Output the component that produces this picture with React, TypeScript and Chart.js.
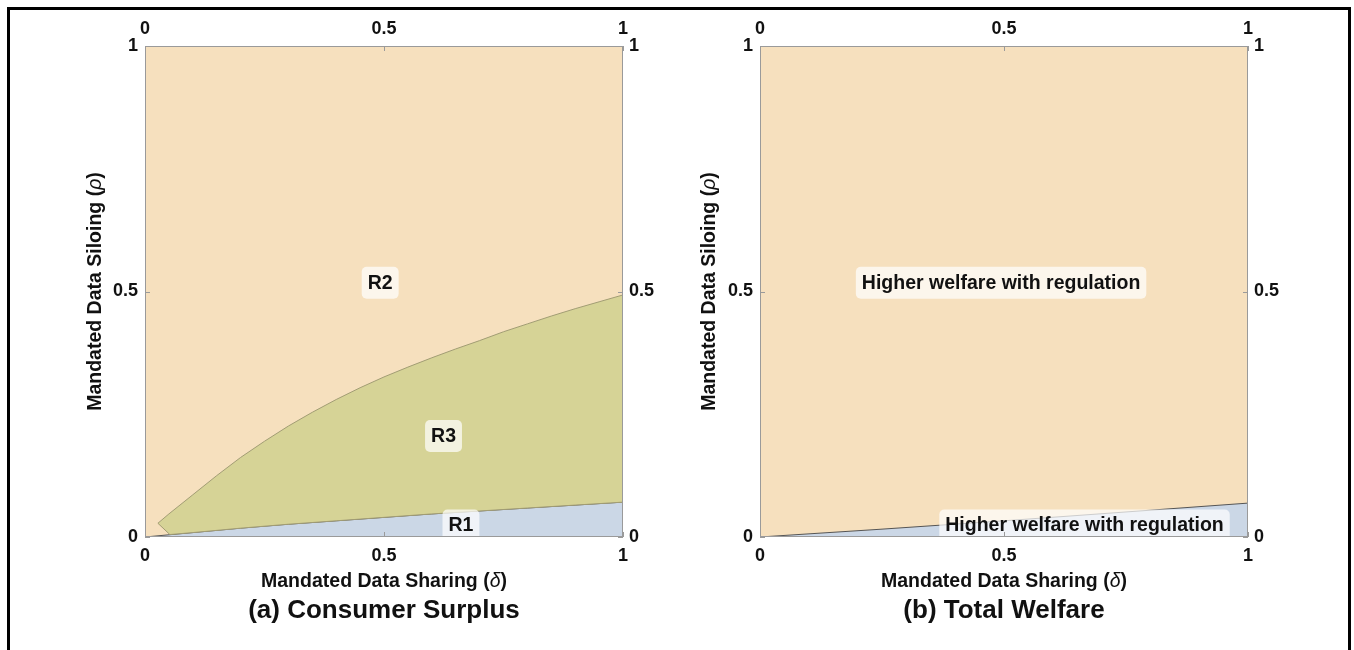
import React, { useEffect, useRef } from "react";
import { Chart, registerables } from "chart.js";
Chart.register(...registerables);

// ---------- data ----------
const tickValues = [0, 0.5, 1];
const tickLabels = ["0", "0.5", "1"];

// Panel (a): boundary between R1 (below) and R3 (above)
const r1Delta = [0, 0.1, 0.2, 0.3, 0.4, 0.5, 0.6, 0.7, 0.8, 0.9, 1.0];
const r1Rho = [0, 0.009, 0.018, 0.026, 0.033, 0.04, 0.047, 0.053, 0.059, 0.065, 0.071];

// Panel (a): upper boundary of R3 (R2 above)
const r3UpperDelta = [0.027, 0.05, 0.1, 0.15, 0.2, 0.25, 0.3, 0.35, 0.4, 0.45, 0.5, 0.55, 0.6, 0.65, 0.7, 0.75, 0.8, 0.85, 0.9, 0.95, 1.0];
const r3UpperRho = [0.028, 0.047, 0.086, 0.125, 0.162, 0.195, 0.226, 0.254, 0.28, 0.304, 0.326, 0.346, 0.365, 0.383, 0.4, 0.418, 0.434, 0.45, 0.465, 0.479, 0.493];

// Panel (a): lower boundary of R3 (walked back from right edge to the tip)
const r3LowerDelta = [1.0, 0.9, 0.8, 0.7, 0.6, 0.5, 0.4, 0.3, 0.2, 0.1, 0.052];
const r3LowerRho = [0.071, 0.065, 0.059, 0.053, 0.047, 0.04, 0.033, 0.026, 0.018, 0.009, 0.005];

// Panel (b): boundary of the lower region
const welfareDelta = [0, 0.25, 0.5, 0.75, 1.0];
const welfareRho = [0, 0.016, 0.033, 0.051, 0.069];

// Region labels
const labelTextsA = ["R2", "R3", "R1"];
const labelDeltaA = [0.492, 0.6245, 0.661];
const labelRhoA = [0.52, 0.2077, 0.0255];

const labelTextsB = ["Higher welfare with regulation", "Higher welfare with regulation"];
const labelDeltaB = [0.494, 0.665];
const labelRhoB = [0.52, 0.0255];

const captionA = "(a) Consumer Surplus";
const captionB = "(b) Total Welfare";
const xTitleParts = ["Mandated Data Sharing (", "δ", ")"];
const yTitleParts = ["Mandated Data Siloing (", "ρ", ")"];

// ---------- styles ----------
const FAMILY = "'Liberation Sans', Arial, sans-serif";
const BEIGE = "#F6E0BE";
const OLIVE = "#D6D396";
const BLUE = "#CBD7E6";
const R3_EDGE = "#A29D74";
const R1_EDGE = "#555555";
const FRAME = "#9A9A9A";
const TEXT = "#111111";

const zip = (xs: number[], ys: number[]) => xs.map((x, i) => ({ x, y: ys[i] }));

function drawMixed(ctx: CanvasRenderingContext2D, parts: string[], size: number, cx: number, cy: number, rotate: boolean) {
  const fonts = parts.map((_, i) => (i === 1 ? `italic ${size}px ${FAMILY}` : `bold ${size}px ${FAMILY}`));
  ctx.save();
  ctx.translate(cx, cy);
  if (rotate) ctx.rotate(-Math.PI / 2);
  ctx.textAlign = "left";
  ctx.textBaseline = "alphabetic";
  ctx.fillStyle = TEXT;
  const widths = parts.map((p, i) => {
    ctx.font = fonts[i];
    return ctx.measureText(p).width;
  });
  const total = widths.reduce((a, b) => a + b, 0);
  let x = -total / 2;
  parts.forEach((p, i) => {
    ctx.font = fonts[i];
    ctx.fillText(p, x, 0);
    x += widths[i];
  });
  ctx.restore();
}

const regionPlugin = {
  id: "regionPlot",
  beforeDatasetsDraw(chart: any) {
    const { ctx, chartArea: a } = chart;
    ctx.save();
    ctx.fillStyle = BEIGE;
    ctx.fillRect(a.left, a.top, a.right - a.left, a.bottom - a.top);
    ctx.restore();
  },
  afterDatasetsDraw(chart: any, _args: any, opts: any) {
    const { ctx, chartArea: a } = chart;
    const xs = chart.scales.x;
    const ys = chart.scales.y;
    // labels
    ctx.save();
    ctx.beginPath();
    ctx.rect(a.left, a.top, a.right - a.left, a.bottom - a.top);
    ctx.clip();
    ctx.font = `bold 19.5px ${FAMILY}`;
    (opts.texts as string[]).forEach((t, i) => {
      const px = xs.getPixelForValue(opts.deltas[i]);
      const py = ys.getPixelForValue(opts.rhos[i]);
      const w = ctx.measureText(t).width;
      const bw = w + 12;
      const bh = 32;
      ctx.fillStyle = "rgba(255,255,255,0.7)";
      ctx.beginPath();
      (ctx as any).roundRect(px - bw / 2, py - bh / 2 + 1, bw, bh, 5);
      ctx.fill();
      ctx.fillStyle = TEXT;
      ctx.textAlign = "center";
      ctx.textBaseline = "alphabetic";
      ctx.fillText(t, px, py + 7);
    });
    ctx.restore();
    // frame
    ctx.save();
    ctx.strokeStyle = FRAME;
    ctx.lineWidth = 1;
    ctx.strokeRect(a.left + 0.5, a.top + 0.5, a.right - a.left - 1, a.bottom - a.top - 1);
    // inward ticks
    ctx.beginPath();
    tickValues.forEach((v) => {
      const px = Math.round(xs.getPixelForValue(v)) + 0.5;
      const py = Math.round(ys.getPixelForValue(v)) + 0.5;
      ctx.moveTo(px, a.bottom);
      ctx.lineTo(px, a.bottom - 5);
      ctx.moveTo(px, a.top);
      ctx.lineTo(px, a.top + 5);
      ctx.moveTo(a.left, py);
      ctx.lineTo(a.left + 5, py);
      ctx.moveTo(a.right, py);
      ctx.lineTo(a.right - 5, py);
    });
    ctx.stroke();
    ctx.restore();
  },
  afterDraw(chart: any, _args: any, opts: any) {
    const { ctx, chartArea: a } = chart;
    const cx = (a.left + a.right) / 2;
    const cy = (a.top + a.bottom) / 2;
    drawMixed(ctx, xTitleParts, 19.5, cx, opts.xTitleBaseline, false);
    drawMixed(ctx, yTitleParts, 19.5, opts.yTitleBaseline, cy, true);
    ctx.save();
    ctx.font = `bold 26px ${FAMILY}`;
    ctx.fillStyle = TEXT;
    ctx.textAlign = "center";
    ctx.textBaseline = "alphabetic";
    ctx.fillText(opts.caption, cx, opts.captionBaseline);
    ctx.restore();
  },
};

function axis(position: string, size: number, padding: number) {
  const horizontal = position === "top" || position === "bottom";
  return {
    type: "linear",
    position,
    min: 0,
    max: 1,
    afterBuildTicks: (s: any) => {
      s.ticks = tickValues.map((v) => ({ value: v }));
    },
    afterFit: (s: any) => {
      if (horizontal) s.height = size;
      else s.width = size;
    },
    grid: { display: false, drawTicks: false },
    border: { display: false },
    ticks: {
      autoSkip: false,
      maxRotation: 0,
      padding,
      color: TEXT,
      font: { family: FAMILY, size: 18, weight: "bold" },
      callback: (v: number) => {
        const i = tickValues.indexOf(v);
        return i >= 0 ? tickLabels[i] : "";
      },
    },
  };
}

function makeConfig(datasets: any[], layout: any, plot: any) {
  return {
    type: "line",
    data: { datasets },
    options: {
      responsive: false,
      animation: false,
      devicePixelRatio: 1,
      layout: { padding: 0 },
      elements: { point: { radius: 0 }, line: { tension: 0 } },
      scales: {
        x: axis("bottom", layout.bottom, 8),
        xTop: axis("top", layout.top, 6),
        y: axis("left", layout.left, 7),
        yRight: axis("right", layout.right, 6),
      },
      plugins: {
        legend: { display: false },
        tooltip: { enabled: false },
        title: { display: false },
        regionPlot: plot,
      },
    },
    plugins: [regionPlugin],
  };
}

function Panel({ config, left, width, height }: any) {
  const ref = useRef<HTMLCanvasElement | null>(null);
  useEffect(() => {
    if (!ref.current) return;
    const chart = new Chart(ref.current, config);
    return () => chart.destroy();
  }, []);
  return (
    <canvas
      ref={ref}
      width={width}
      height={height}
      style={{ position: "absolute", left, top: 0, width, height }}
    />
  );
}

const r3Polygon = [
  ...zip(r3UpperDelta, r3UpperRho),
  ...zip(r3LowerDelta, r3LowerRho),
  { x: r3UpperDelta[0], y: r3UpperRho[0] },
];

const configA = makeConfig(
  [
    {
      label: "R3",
      data: r3Polygon,
      fill: "shape",
      backgroundColor: OLIVE,
      borderColor: R3_EDGE,
      borderWidth: 1,
      pointRadius: 0,
    },
    {
      label: "R1",
      data: zip(r1Delta, r1Rho),
      fill: "origin",
      backgroundColor: BLUE,
      borderColor: R1_EDGE,
      borderWidth: 1,
      pointRadius: 0,
    },
  ],
  { left: 135, right: 57, top: 36, bottom: 113 },
  {
    texts: labelTextsA,
    deltas: labelDeltaA,
    rhos: labelRhoA,
    caption: captionA,
    xTitleBaseline: 577,
    captionBaseline: 608,
    yTitleBaseline: 91,
  }
);

const configB = makeConfig(
  [
    {
      label: "lower",
      data: zip(welfareDelta, welfareRho),
      fill: "origin",
      backgroundColor: BLUE,
      borderColor: R1_EDGE,
      borderWidth: 1,
      pointRadius: 0,
    },
  ],
  { left: 80, right: 100, top: 36, bottom: 113 },
  {
    texts: labelTextsB,
    deltas: labelDeltaB,
    rhos: labelRhoB,
    caption: captionB,
    xTitleBaseline: 577,
    captionBaseline: 608,
    yTitleBaseline: 35,
  }
);

export default function App() {
  return (
    <div
      style={{
        position: "fixed",
        left: 7,
        top: 7,
        width: 1338,
        height: 700,
        border: "3px solid #000",
        background: "#fff",
      }}
    >
      <Panel config={configA} left={0} width={670} height={640} />
      <Panel config={configB} left={670} width={668} height={640} />
    </div>
  );
}
